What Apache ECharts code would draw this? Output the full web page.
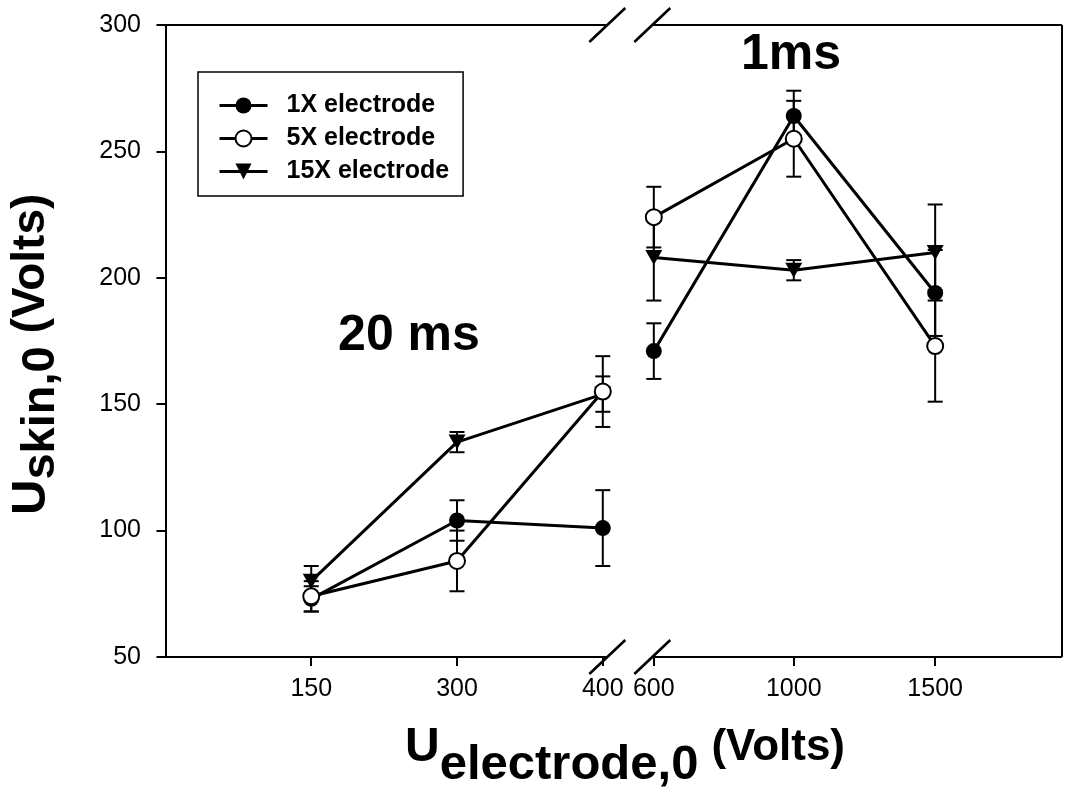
<!DOCTYPE html>
<html>
<head>
<meta charset="utf-8">
<script src="https://cdn.jsdelivr.net/npm/echarts@6/dist/echarts.min.js"></script>
<style>
html, body { margin: 0; padding: 0; background: #fff; }
#chart { width: 1078px; height: 793px; }
</style>
</head>
<body>
<div id="chart"></div>
<script>
// Electrode voltage categories and their slot positions on the broken x axis
const xLabels = ['150', '300', '400', '600', '1000', '1500'];
const xSlots = [1, 2, 3, 3.35, 4.31, 5.28];
const lastBeforeBreak = 2;
const xMin = -0.01, xMax = 6.15;
const yMin = 50, yMax = 300, yStep = 50;

// Skin voltage (mean) and error bar half-widths per electrode size
const oneX = [73, 104, 101, 171, 264, 194];
const oneXErr = [5, 8, 15, 11, 10, 17];
const fiveX = [74, 88, 155, 224, 255, 173];
const fiveXErr = [6, 12, 14, 12, 15, 22];
const fifteenX = [80, 135, 154, 208, 203, 210];
const fifteenXErr = [6, 4, 7, 17, 4, 19];

const FONT = '"Liberation Sans", Arial, Helvetica, sans-serif';

// line data with a gap at the axis break
function lineData(vals) {
  const out = [];
  vals.forEach((v, i) => {
    out.push([xSlots[i], v]);
    if (i === lastBeforeBreak) out.push([(xSlots[i] + xSlots[i + 1]) / 2, '-']);
  });
  return out;
}
function errData(vals, errs) {
  return vals.map((v, i) => [xSlots[i], v, errs[i]]);
}

const capHalf = 7.5;
function renderErr(params, api) {
  const x = api.value(0), m = api.value(1), e = api.value(2);
  const top = api.coord([x, m + e]);
  const bot = api.coord([x, m - e]);
  const st = { stroke: '#000', lineWidth: 2 };
  return {
    type: 'group',
    children: [
      { type: 'line', shape: { x1: top[0], y1: top[1], x2: bot[0], y2: bot[1] }, style: st },
      { type: 'line', shape: { x1: top[0] - capHalf, y1: top[1], x2: top[0] + capHalf, y2: top[1] }, style: st },
      { type: 'line', shape: { x1: bot[0] - capHalf, y1: bot[1], x2: bot[0] + capHalf, y2: bot[1] }, style: st }
    ]
  };
}

// plot frame with the double-slash break on the top and bottom edges
function renderFrame(params, api) {
  const cs = params.coordSys;
  const L = cs.x, T = cs.y, R = cs.x + cs.width, B = cs.y + cs.height;
  const bx = (api.coord([xSlots[lastBeforeBreak], yMin])[0] + api.coord([xSlots[lastBeforeBreak + 1], yMin])[0]) / 2;
  const offL = 21, offR = 24, sx = 18, sy = 17;
  const st = { stroke: '#000', lineWidth: 2 };
  const sl = { stroke: '#000', lineWidth: 2.6 };
  const seg = (x1, y1, x2, y2, s) => ({ type: 'line', shape: { x1, y1, x2, y2 }, style: s || st });
  const kids = [
    seg(L, T, bx - offL, T), seg(bx + offR, T, R, T),
    seg(L, B, bx - offL, B), seg(bx + offR, B, R, B),
    seg(R, T, R, B)
  ];
  [T, B].forEach(y => {
    [bx - offL, bx + offR].forEach(cx => kids.push(seg(cx - sx, y + sy, cx + sx, y - sy, sl)));
  });
  return { type: 'group', children: kids };
}

const measureCtx = document.createElement('canvas').getContext('2d');
function textWidth(t, size) {
  measureCtx.font = 'bold ' + size + 'px ' + FONT;
  return measureCtx.measureText(t).width;
}
// axis title built from pieces (main letter, subscript, unit)
function titleGroup(parts, x, y, rotation) {
  let cx = 0;
  const children = parts.map(p => {
    const el = {
      type: 'text', x: cx, y: p.dy,
      style: {
        text: p.text, fill: '#000',
        font: 'bold ' + p.size + 'px ' + FONT,
        textAlign: 'left', align: 'left',
        textVerticalAlign: 'middle', verticalAlign: 'middle'
      }
    };
    cx += textWidth(p.text, p.size) + (p.gap || 0);
    return el;
  });
  return { type: 'group', x, y, rotation, children, silent: true };
}

const chart = echarts.init(document.getElementById('chart'), null, { renderer: 'canvas' });

chart.setOption({
  animation: false,
  backgroundColor: '#fff',
  grid: { left: 164, right: 16, top: 25, bottom: 136, show: false },
  xAxis: {
    type: 'value', min: xMin, max: xMax,
    axisLine: { show: false },
    splitLine: { show: false },
    axisTick: { show: true, customValues: xSlots, length: 9, lineStyle: { color: '#000', width: 2 } },
    axisLabel: {
      customValues: xSlots, margin: 20, color: '#000', fontSize: 25, fontFamily: FONT,
      formatter: v => {
        const i = xSlots.findIndex(s => Math.abs(s - v) < 1e-6);
        return i >= 0 ? xLabels[i] : '';
      }
    }
  },
  yAxis: {
    type: 'value', min: yMin, max: yMax, interval: yStep,
    axisLine: { show: true, lineStyle: { color: '#000', width: 2 } },
    splitLine: { show: false },
    axisTick: { show: true, length: 9, lineStyle: { color: '#000', width: 2 } },
    axisLabel: { margin: 23, color: '#000', fontSize: 25, fontFamily: FONT }
  },
  legend: {
    orient: 'vertical', left: 198, top: 72,
    padding: [21, 14, 12, 20],
    borderColor: '#000', borderWidth: 1.5,
    itemWidth: 48, itemHeight: 20, itemGap: 8,
    lineStyle: { width: 3 },
    textStyle: { color: '#000', fontSize: 25, fontWeight: 'bold', fontFamily: FONT, padding: [0, 0, 0, 14] },
    data: ['1X electrode', '5X electrode', '15X electrode']
  },
  series: [
    { type: 'custom', name: 'frame', renderItem: renderFrame, data: [[0, 0]], clip: false, silent: true, z: 5 },
    { type: 'custom', name: 'err1', renderItem: renderErr, data: errData(oneX, oneXErr), z: 1, silent: true },
    { type: 'custom', name: 'err5', renderItem: renderErr, data: errData(fiveX, fiveXErr), z: 1, silent: true },
    { type: 'custom', name: 'err15', renderItem: renderErr, data: errData(fifteenX, fifteenXErr), z: 1, silent: true },
    {
      type: 'line', name: '15X electrode', data: lineData(fifteenX), z: 2,
      symbol: 'triangle', symbolRotate: 180, symbolSize: [17, 15],
      itemStyle: { color: '#000' }, lineStyle: { color: '#000', width: 3 }
    },
    {
      type: 'line', name: '1X electrode', data: lineData(oneX), z: 2,
      symbol: 'circle', symbolSize: 16,
      itemStyle: { color: '#000' }, lineStyle: { color: '#000', width: 3 }
    },
    {
      type: 'line', name: '5X electrode', data: lineData(fiveX), z: 2,
      symbol: 'circle', symbolSize: 16,
      itemStyle: { color: '#fff', borderColor: '#000', borderWidth: 2 }, lineStyle: { color: '#000', width: 3 }
    }
  ],
  graphic: [
    { type: 'text', x: 409, y: 336, silent: true,
      style: { text: '20 ms', fill: '#000', font: 'bold 50px ' + FONT, textAlign: 'center', align: 'center', textVerticalAlign: 'middle', verticalAlign: 'middle' } },
    { type: 'text', x: 791, y: 55, silent: true,
      style: { text: '1ms', fill: '#000', font: 'bold 50px ' + FONT, textAlign: 'center', align: 'center', textVerticalAlign: 'middle', verticalAlign: 'middle' } },
    titleGroup([
      { text: 'U', size: 48, dy: 0 },
      { text: 'electrode,0', size: 49, dy: 17, gap: 13 },
      { text: '(Volts)', size: 44, dy: 0 }
    ], 405, 748, 0),
    titleGroup([
      { text: 'U', size: 49, dy: 0 },
      { text: 'skin,0', size: 47, dy: 10, gap: 13 },
      { text: '(Volts)', size: 46, dy: 0 }
    ], 31, 515, Math.PI / 2)
  ]
});
</script>
</body>
</html>
